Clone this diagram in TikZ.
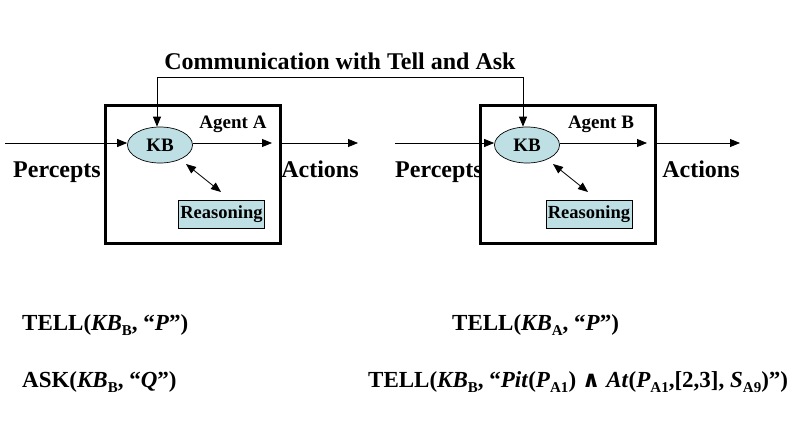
\documentclass[tikz,border=0pt]{standalone}
\usepackage{fontspec}
\setmainfont{Liberation Serif}
\newfontfamily\symfont{DejaVu Sans}
\usetikzlibrary{arrows.meta,shapes.geometric}
\definecolor{kbfill}{RGB}{190,224,228}
\newcommand\mysub[1]{\raisebox{-0.22em}{\fontsize{15}{15}\selectfont #1}}
\tikzset{
  lbl/.style={font=\fontsize{24}{28}\selectfont\bfseries, inner sep=0pt, anchor=base},
  eq/.style={font=\fontsize{23}{27}\selectfont\bfseries, inner sep=0pt, anchor=base west},
  small/.style={font=\fontsize{19}{22}\selectfont\bfseries, inner sep=0pt, anchor=base},
  agentbox/.style={draw, line width=3pt, minimum width=175pt, minimum height=138pt, inner sep=0pt},
  kb/.style={ellipse, draw, fill=kbfill, line width=0.7pt, minimum width=65pt, minimum height=36pt, inner sep=0pt, font=\fontsize{19}{22}\selectfont\bfseries},
  reason/.style={draw, fill=kbfill, line width=0.7pt, minimum width=86pt, minimum height=28pt, inner sep=0pt, font=\fontsize{18.5}{22}\selectfont\bfseries},
  arr/.style={-{Triangle[length=10pt,width=8pt]}, line width=0.8pt},
  darr/.style={{Triangle[length=10pt,width=8pt]}-{Triangle[length=10pt,width=8pt]}, line width=0.8pt},
}
\begin{document}
\begin{tikzpicture}[x=1pt,y=-1pt]
\useasboundingbox (0,0) rectangle (809,431);
% boxes
\node[agentbox] (boxA) at (192.5,174) {};
\node[agentbox] (boxB) at (567.5,174) {};
% KB ellipses
\node[kb] (kbA) at (160,145) {KB};
\node[kb] (kbB) at (527,145) {KB};
% reasoning
\node[reason] (rA) at (221.5,214) {Reasoning};
\node[reason] (rB) at (589,214) {Reasoning};
% labels
\node[lbl] (comm) at (340,69) {Communication with Tell and Ask};
\node[small] (agA) at (233,128) {Agent A};
\node[small] (agB) at (601,128) {Agent B};
\node[lbl] (pA) at (57,177) {Percepts};
\node[lbl] (aA) at (320,177) {Actions};
\node[lbl] (pB) at (439,177) {Percepts};
\node[lbl] (aB) at (701,177) {Actions};
% coordinates
\coordinate (inA) at (5,143);
\coordinate (inB) at (395,143);
\coordinate (kbAo) at (272,143);
\coordinate (kbBo) at (647,143);
\coordinate (outA) at (358,143);
\coordinate (outB) at (740,143);
\coordinate (cA) at (157,77);
\coordinate (cB) at (523,77);
\coordinate (dA1) at (186,164);
\coordinate (dA2) at (221,192);
\coordinate (dB1) at (553,164);
\coordinate (dB2) at (588,192);
% connectors
\draw[arr] (inA) -- ([yshift=2pt]kbA.west);
\draw[arr] ([yshift=2pt]kbA.east) -- (kbAo);
\draw[arr] (boxA.east |- kbAo) -- (outA);
\draw[arr] (inB) -- ([yshift=2pt]kbB.west);
\draw[arr] ([yshift=2pt]kbB.east) -- (kbBo);
\draw[arr] (boxB.east |- kbBo) -- (outB);
\draw[line width=0.8pt] (cA) -- (cB);
\draw[arr] (cA) -- (cA |- kbA.north);
\draw[arr] (cB) -- (cB |- kbB.north);
\draw[darr] (dA1) -- (dA2);
\draw[darr] (dB1) -- (dB2);
% statements
\node[eq] (t1) at (22,330) {TELL(\textit{KB}\mysub{B}, “\textit{P}”)};
\node[eq] (t2) at (22,387) {ASK(\textit{KB}\mysub{B}, “\textit{Q}”)};
\node[eq] (t3) at (452,330) {TELL(\textit{KB}\mysub{A}, “\textit{P}”)};
\node[eq] (t4) at (368,387) {TELL(\textit{KB}\mysub{B}, “\textit{Pit}(\textit{P}\mysub{A1}) {\symfont ∧} \textit{At}(\textit{P}\mysub{A1},[2,3], \textit{S}\mysub{A9})”)};
\end{tikzpicture}
\end{document}
